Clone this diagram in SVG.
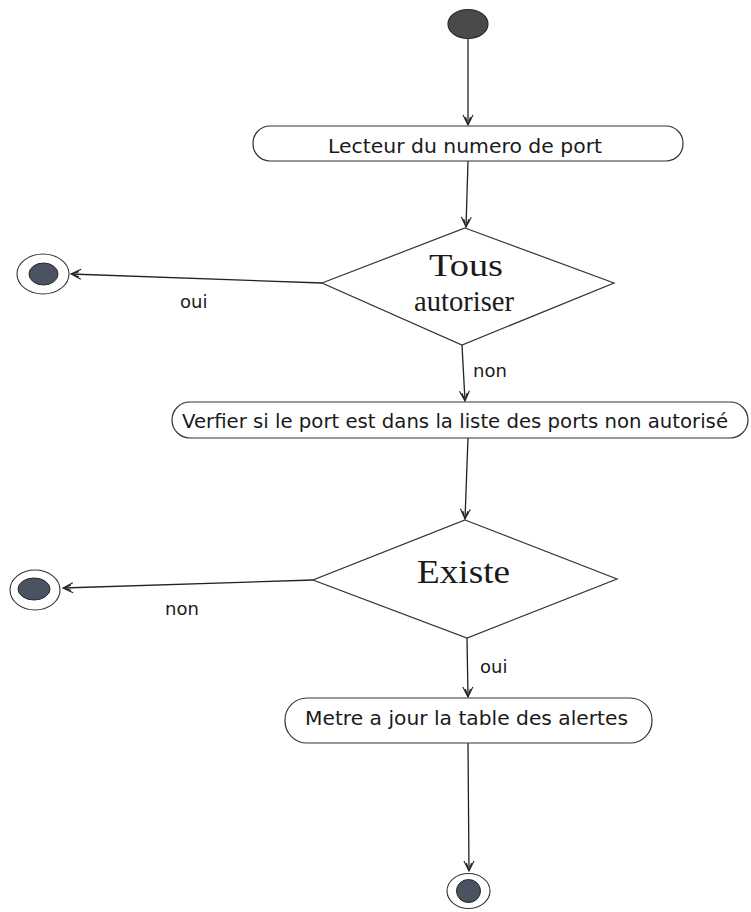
<svg xmlns="http://www.w3.org/2000/svg" width="751" height="912" viewBox="0 0 751 912">
  <defs>
    <marker id="vee" viewBox="0 0 12 12" refX="11" refY="6" markerWidth="12" markerHeight="12" markerUnits="userSpaceOnUse" orient="auto">
      <path d="M1,1 L11,6 L1,11 M3,3.5 L11,6 M3,8.5 L11,6" fill="none" stroke="#222" stroke-width="1.1"/>
    </marker>
  </defs>
  <style>
    .bg { fill: #ffffff; }
    .edge { fill: none; stroke: #222; stroke-width: 1.3; marker-end: url(#vee); }
    .act { fill: #ffffff; stroke: #333; stroke-width: 1.2; }
    .dec { fill: #ffffff; stroke: #333; stroke-width: 1.2; }
    .start { fill: #4a4a4a; stroke: #2a2a2a; stroke-width: 1.2; }
    .ring { fill: #ffffff; stroke: #333; stroke-width: 1.1; }
    .dot { fill: #4b5261; stroke: #2a2a2a; stroke-width: 1; }
    .lbl { font-family: "DejaVu Sans", sans-serif; font-size: 19.5px; fill: #1a1a1a; }
    .cond { font-family: "Liberation Serif", serif; font-size: 32px; fill: #1a1a1a; }
    .guard { font-family: "DejaVu Sans", sans-serif; font-size: 18px; fill: #1a1a1a; }
  </style>
  <rect class="bg" x="0" y="0" width="751" height="912"/>

  <!-- connectors -->
  <g id="connectors">
    <path class="edge" d="M468,38 L468,125"/>
    <path class="edge" d="M468,161 L466,227"/>
    <path class="edge" d="M322,283 L71,274"/>
    <text class="guard" x="180" y="308">oui</text>
    <path class="edge" d="M462,345 L465,401"/>
    <text class="guard" x="473" y="377">non</text>
    <path class="edge" d="M468,438 L465,519"/>
    <path class="edge" d="M313,580 L63,588"/>
    <text class="guard" x="165" y="615">non</text>
    <path class="edge" d="M467,638 L468,697"/>
    <text class="guard" x="480" y="673">oui</text>
    <path class="edge" d="M468,743 L469,871"/>
  </g>

  <!-- initial node -->
  <g id="start">
    <ellipse class="start" cx="468" cy="24" rx="20" ry="14.5"/>
  </g>

  <!-- activity: read port number -->
  <g id="read-port">
    <rect class="act" x="253" y="126" width="430" height="35" rx="17" ry="17"/>
    <text class="lbl" x="328" y="153" textLength="274" lengthAdjust="spacingAndGlyphs">Lecteur du numero de port</text>
  </g>

  <!-- decision: all allowed -->
  <g id="all-allowed">
    <polygon class="dec" points="465,228 614,283 462,345 322,283"/>
    <text class="cond" x="429" y="276" textLength="74" lengthAdjust="spacingAndGlyphs">Tous</text>
    <text class="cond" x="414" y="311" style="font-size:30px" textLength="100" lengthAdjust="spacingAndGlyphs">autoriser</text>
  </g>

  <!-- final node after "oui" -->
  <g id="end-allowed">
    <ellipse class="ring" cx="43" cy="274" rx="26" ry="20"/>
    <ellipse class="dot" cx="43.5" cy="274" rx="14.5" ry="11"/>
  </g>

  <!-- activity: check forbidden list -->
  <g id="check-list">
    <rect class="act" x="172" y="402" width="576" height="36" rx="18" ry="18"/>
    <text class="lbl" x="182" y="428" textLength="546" lengthAdjust="spacingAndGlyphs">Verfier si le port est dans la liste des ports non autorisé</text>
  </g>

  <!-- decision: exists -->
  <g id="exists">
    <polygon class="dec" points="465,520 617,579 467,638 313,580"/>
    <text class="cond" x="417" y="583" style="font-size:34px" textLength="93" lengthAdjust="spacingAndGlyphs">Existe</text>
  </g>

  <!-- final node after "non" -->
  <g id="end-absent">
    <ellipse class="ring" cx="35" cy="590" rx="25" ry="20"/>
    <ellipse class="dot" cx="34" cy="589" rx="16" ry="11"/>
  </g>

  <!-- activity: update alerts table -->
  <g id="update-alerts">
    <rect class="act" x="285" y="698" width="367" height="45" rx="22" ry="22"/>
    <text class="lbl" x="305" y="725" textLength="323" lengthAdjust="spacingAndGlyphs">Metre a jour la table des alertes</text>
  </g>

  <!-- final node -->
  <g id="end">
    <ellipse class="ring" cx="468.5" cy="891" rx="21.5" ry="17.5"/>
    <ellipse class="dot" cx="468.5" cy="891" rx="12" ry="11.5"/>
  </g>
</svg>
